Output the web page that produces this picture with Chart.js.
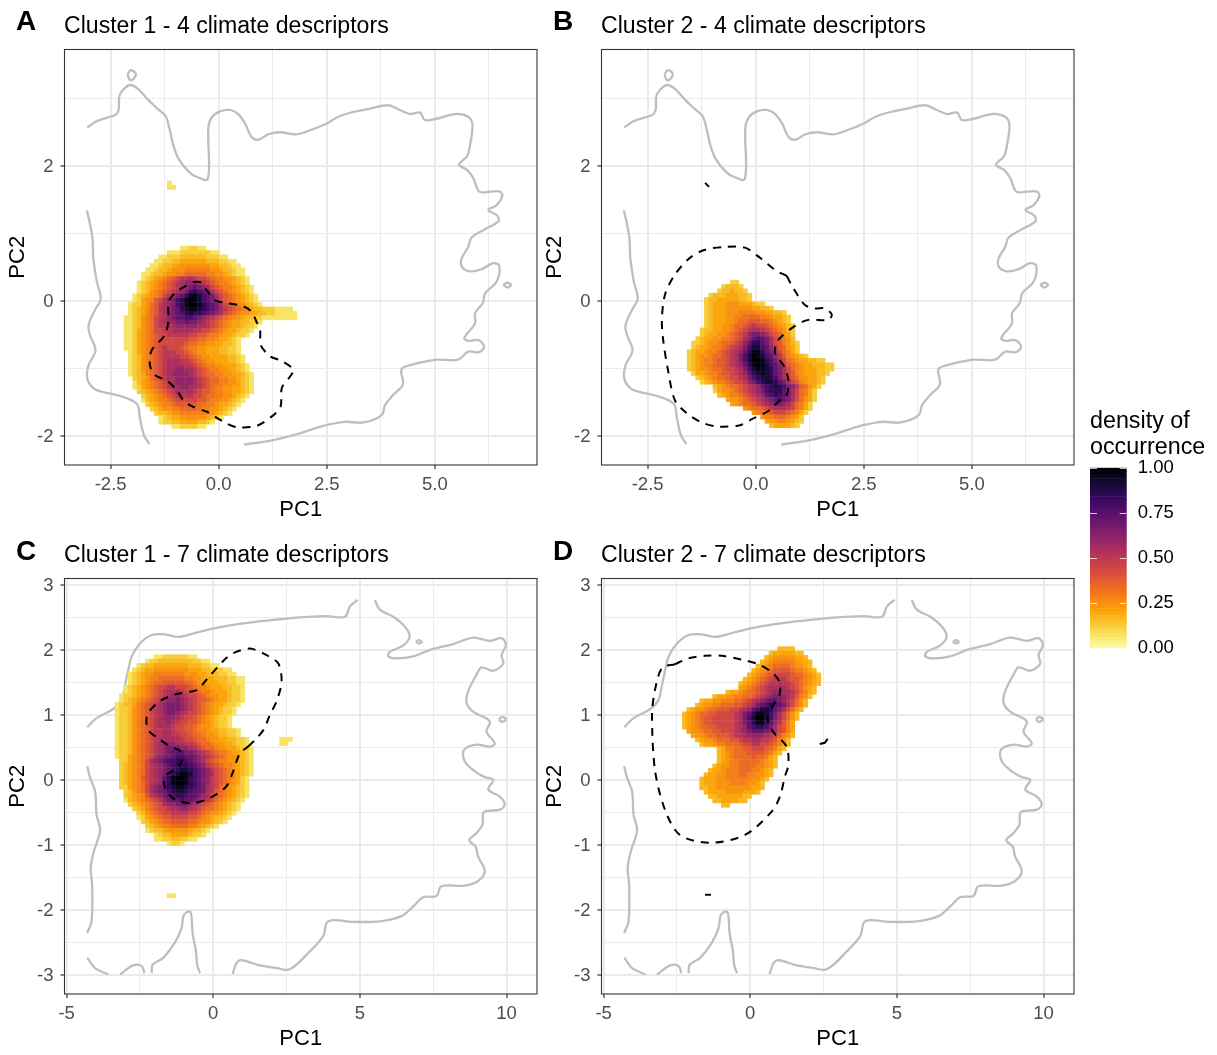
<!DOCTYPE html>
<html>
<head>
<meta charset="utf-8">
<script src="https://cdn.jsdelivr.net/npm/chart.js@4/dist/chart.umd.min.js"></script>
<style>
html,body{margin:0;padding:0;background:#fff;width:1217px;height:1055px;overflow:hidden;font-family:"Liberation Sans",sans-serif;}
canvas{position:absolute;}
.t{position:absolute;white-space:nowrap;color:#000;line-height:1;}
.title{font-size:23.1px;}
.tag{font-size:28px;font-weight:bold;}
.leg{font-size:23.3px;}
</style>
</head>
<body>
<canvas id="cA" width="545" height="525" style="left:0;top:0"></canvas>
<canvas id="cB" width="545" height="525" style="left:537px;top:0"></canvas>
<canvas id="cC" width="545" height="525" style="left:0;top:529px"></canvas>
<canvas id="cD" width="545" height="525" style="left:537px;top:529px"></canvas>
<canvas id="cL" width="132" height="270" style="left:1085px;top:400px"></canvas>
<div class="t tag" style="left:16px;top:7px">A</div>
<div class="t tag" style="left:553px;top:7px">B</div>
<div class="t tag" style="left:16px;top:537px">C</div>
<div class="t tag" style="left:553px;top:537px">D</div>
<div class="t title" style="left:64px;top:14px">Cluster 1 - 4 climate descriptors</div>
<div class="t title" style="left:601px;top:14px">Cluster 2 - 4 climate descriptors</div>
<div class="t title" style="left:64px;top:543px">Cluster 1 - 7 climate descriptors</div>
<div class="t title" style="left:601px;top:543px">Cluster 2 - 7 climate descriptors</div>
<div class="t leg" style="left:1090px;top:409px">density of</div>
<div class="t leg" style="left:1090px;top:435px">occurrence</div>
<script>
// density codes -> density value
const densityCodes = "0123456789abcdefghijk";
const densityLevels = [0,0.03,0.07,0.12,0.16,0.2,0.24,0.28,0.33,0.38,0.44,0.5,0.55,0.6,0.66,0.72,0.78,0.84,0.9,0.96,1];

const rowsA = ["2","22","","","","","","","","","","","","","",
"223322","222333333322","2233344444433322","2233445555554443322","223445566666665544322",
"22344566677777766544322","223445667788888776654322","23456789abbcbaa9877665432","23456789abcdddcba987765432","23456789abcdefedca987765432",
"2346789abcdeghgfeca98765432","2345678abcefhjjigfeca98765432","235679acdeghjkjigfeca98765432","2335689bcdeghjkkjhgfeca98765432","2345689bcdefhijjihgfecba98765443332222",
"2345789bcdefghihhgfedca98766554433 22222","2234678abcdeffggfedcba9876654433222222 22","2234678abcddeefeedcba98765544332","2234678abbccdddddccba9876554332","2235678aabbcccccbbaa9876554332",
"22356789aabbbbbaa998776554332","22356789aaaaaaa998877655432","22356789aaaaaa9887766554432","22356789abaaa98776655544332","2356789abbbaa9876655544332",
"2346789abbbbaa9876655554432","2346789abcccbba987665554432","2346789abccccbba987766555432","2346789abccddccba98776655432","2345789abcddddcba988776655432",
"345689abccddddcba98877665432","2456789abcddddcba98877665432","2356789abccddccba98776655432","3456789abccccba998776655432","3456789abbbbaa98877665432",
"24567789aaaaa99877665432","3456778999998877655432","34566778888877665432","344566777777665432","234556666665432",
"2334455554432","22333322"].map(r=>r.replace(/ /g,''));
const offsA = [10,10,0,0,0,0,0,0,0,0,0,0,0,0,0,
13,10,8,7,6,5,4,4,3,3,3,2,2,1,1,1,0,0,0,0,0,0,0,0,1,1,1,1,1,1,2,2,2,3,4,4,5,6,7,8,8,11];

const rowsB = ["33","34443","3445443","3444555443","34455555443","34555666555433","3455566666655443","3455566677776655443",
"34555667788887765543","34555667889998876543","3455667889abaa9876543","3445566789abccba987643","345566789abdeedca98653",
"3455667789acdfgfeca9764","3345667889abdfhhfeca97643","345567789abcegiigfdb98653","345567789abcdfhjjhfeca8753",
"345667889abcegikjigfdb976543","345677899abcegikkjhgeca876554433","345677899abcdfhjkjigfdb98765544433","345667889aabcegijjihfeca8765554433",
"355677899abcdfhijihfeca976555443","34567889aabceghiihgeca98665543","34567789aabdeghiihfeca9765543","4567889abcdfghihgedb98653",
"3566789abcdeghhhfeca8753","4567789abcdfghgfeca8753","566789abcdefgfeca8653","567889abcdeedca8753","67889abcccba8753","67889aaa98753","6778887653","566776543","4555543"];
const offsB = [10,8,7,5,4,4,4,4,4,4,4,3,3,2,1,1,0,0,0,0,0,1,2,3,6,6,7,9,10,13,15,17,18,19];

const rowsC = ["2233333322","233444444443322","2344555555554443322","23455666666665554433322","2345667777777666554443322",
"234567788888877665554443322","234567889999988766555443322","23456789aabbaaa9877655544332","23456789abcccbaa987765554332",
"233456789abcddcbaa98766554332","23456789abcddedcba99876554332","23445789abcdeeedcba9876554332","23346789abcdeeedcba987654332",
"23346789abcdeedcbaa987654332","23346789abcdddcbaa987654332","23346789abccdcbaa9987654332","23346789abcccbaa99876654332",
"23346789abbccbaa9987765544332","23346789abbccbbaa988766544332","23346789abcccccbaa9887665544332.......222","23346789abcdddccbba988766554332.......22",
"23346789abcdeeeddcba988766554332","23346789abcdefffeedcba9877655432","23356789acdeefggffedcba987665432","335678acdefgghggfedca9877665432",
"345678abcdefghhhgfedba987765432","345678abcdefghiihgfedba98765432","345678abcdefhijjigfedca98765432","345679abcdfhjkkjhgfedba9876532",
"345678abcdfhjkkjhgfedba9876532","335678acdefhijjihgfecba8765432","34678acdefghiihgffecb98765432","345679bcdefghhgffedca98765432",
"2456789abdeffgffedcba8765432","3456789acddeeedcba98765432","345789aabccddcba988765432","346789aabbbbaa987665432",
"23567899aaaa9987654432","34567889999887665432","34567788887765432","234456666654432","234455554332","2233443322","2332",
"","","","","","","","","","","","22"];
const offsC = [9,7,5,4,3,3,3,2,2,1,1,0,0,0,0,0,0,0,0,0,0,0,0,0,1,1,1,1,1,1,1,2,2,2,3,4,5,5,6,7,7,9,9,12,0,0,0,0,0,0,0,0,0,0,0,12];

const rowsD = ["4444","45555544","4566666554","456777776554","4567888876654","456789999877654","456789aaaa9887654","456789abbba9987654",
"456789abbcbba987654","56789abccccba98654","45567889abcddccba8754","4556677889abcdeedcb9764","45566777889abcdeffedba864",
"45667788899abcefghgfeca864","4566788999aabcdfgiihfeca864","45678899aaaabcefhjjigeca864","4567899aaaaabcegikkigeca864",
"4567899aaaaabcefhjjhfdb975","45678899aaaabcdfghhgeca975","56678899aaabcdefffedca975","566788999abbcddddcba9764",
"4566788899abbccbba9764","4556778889aabbaa98754","45778899aaa98754","456788899998754","45678888988754","45677888887654",
"456677888877654","455677788877654","4556677788776654","4555667777776654","455566677776654","445566666666554",
"4555566665554","4455555544","44555544","44"];
const offsD = [22,20,19,18,17,16,15,14,13,13,10,7,4,3,1,0,0,0,0,1,2,3,4,8,8,8,8,7,6,5,4,4,4,5,6,7,9];

// PC1/PC2 grid of the density cells
const gridA = {x0:-2.14, dx:0.1,    y0:1.748, dy:0.0644};
const gridB = {x0:-1.538,dx:0.1,    y0:0.278, dy:0.0644};
const gridC = {x0:-3.277,dx:0.1476, y0:1.894, dy:0.0669};
const gridD = {x0:-2.243,dx:0.1476, y0:2.017, dy:0.0669};

// grey region outlines (PC1, PC2), 4 descriptors
const outlineTop4 = [[-3.04,2.57],[-2.86,2.65],[-2.71,2.69],[-2.51,2.73],[-2.36,2.77],[-2.31,2.85],[-2.30,3.03],[-2.21,3.13],[-2.05,3.20],[-1.86,3.14],[-1.63,2.98],[-1.40,2.84],[-1.22,2.73],[-1.14,2.56],[-1.05,2.31],[-0.93,2.11],[-0.70,1.92],[-0.51,1.84],[-0.25,1.81],[-0.24,2.56],[-0.16,2.72],[0.03,2.81],[0.26,2.83],[0.45,2.77],[0.61,2.63],[0.76,2.43],[0.92,2.39],[1.15,2.47],[1.42,2.50],[1.80,2.47],[2.11,2.53],[2.50,2.63],[2.77,2.73],[3.11,2.80],[3.50,2.85],[3.92,2.90],[4.19,2.83],[4.43,2.77],[4.66,2.79],[4.77,2.68],[5.04,2.70],[5.47,2.77],[5.77,2.73],[5.87,2.61],[5.80,2.26],[5.74,2.14],[5.56,2.02],[5.75,1.94],[5.89,1.82],[6.03,1.62],[6.28,1.62],[6.51,1.62],[6.56,1.55],[6.43,1.42],[6.24,1.35],[6.45,1.26],[6.47,1.18],[6.12,1.05],[5.85,0.94],[5.77,0.80],[5.62,0.63],[5.62,0.51],[5.81,0.44],[6.08,0.47],[6.35,0.56],[6.49,0.52],[6.43,0.29],[6.16,0.11],[6.11,-0.03],[5.93,-0.18],[5.93,-0.33],[5.68,-0.55],[5.77,-0.59],[6.01,-0.58],[6.14,-0.68],[6.01,-0.76],[5.77,-0.75],[5.54,-0.87],[5.04,-0.87],[4.50,-0.94],[4.23,-1.01],[4.26,-1.24],[4.04,-1.39],[3.85,-1.54],[3.77,-1.69],[3.35,-1.80],[2.92,-1.79],[2.42,-1.85],[1.88,-1.96],[1.26,-2.06],[0.59,-2.13]];
const outlineLeft4 = [[-3.05,1.34],[-2.99,1.18],[-2.92,0.93],[-2.90,0.63],[-2.82,0.29],[-2.73,0.03],[-2.86,-0.13],[-3.01,-0.36],[-2.98,-0.50],[-2.85,-0.73],[-3.01,-0.95],[-3.04,-1.15],[-2.90,-1.29],[-2.67,-1.35],[-2.32,-1.40],[-1.90,-1.52],[-1.82,-1.74],[-1.73,-1.99],[-1.60,-2.12]];
const islandTop4 = [[-2.10,3.37],[-2.03,3.42],[-1.92,3.37],[-1.96,3.30],[-2.05,3.27],[-2.10,3.34],[-2.10,3.37]];
const islandRight4 = [[6.58,0.24],[6.68,0.27],[6.76,0.24],[6.68,0.20],[6.58,0.24]];

// grey region outlines (PC1, PC2), 7 descriptors
const outlineTop7 = [[-4.30,0.81],[-3.98,0.95],[-3.41,1.09],[-3.13,1.23],[-3.01,1.46],[-2.90,1.69],[-2.78,1.90],[-2.50,2.10],[-2.10,2.23],[-1.65,2.24],[-1.19,2.20],[-0.63,2.26],[0.11,2.34],[0.91,2.40],[1.82,2.45],[2.95,2.50],[3.86,2.52],[4.49,2.51],[4.66,2.67],[4.92,2.77]];
const outlineRight7 = [[5.51,2.77],[5.68,2.62],[6.14,2.51],[6.53,2.36],[6.70,2.21],[6.48,2.07],[6.02,1.97],[5.97,1.90],[6.25,1.87],[6.82,1.90],[7.39,2.00],[8.18,2.09],[8.86,2.19],[9.43,2.14],[9.83,2.18],[9.98,2.08],[9.83,1.92],[9.89,1.79],[9.55,1.68],[9.15,1.73],[8.98,1.62],[8.69,1.36],[8.64,1.18],[8.86,1.05],[9.43,0.90],[9.32,0.74],[9.60,0.56],[9.43,0.51],[8.98,0.54],[8.55,0.46],[8.58,0.28],[8.92,0.13],[9.26,0.04],[9.55,0],[9.38,-0.15],[9.77,-0.26],[9.94,-0.38],[9.77,-0.46],[9.23,-0.50],[9.18,-0.69],[8.98,-0.82],[8.73,-0.93],[8.95,-1.03],[9.03,-1.18],[9.26,-1.41],[9.03,-1.56],[8.58,-1.63],[7.78,-1.64],[7.61,-1.79],[7.16,-1.81],[6.82,-1.95],[6.42,-2.10],[5.68,-2.18],[4.77,-2.19],[3.92,-2.18],[3.75,-2.41],[3.30,-2.64],[2.61,-2.92],[2.16,-2.90],[1.59,-2.86],[0.97,-2.78],[0.80,-2.82],[0.66,-2.99]];
const outlineLeft7 = [[-4.30,0.21],[-4.20,0.03],[-4.03,-0.18],[-3.98,-0.54],[-3.86,-0.78],[-4.07,-1.10],[-4.18,-1.36],[-4.13,-1.62],[-4.15,-2.18],[-4.30,-2.36]];
const outlineFoot7a = [[-4.30,-2.74],[-4.03,-2.90],[-3.58,-3.00]];
const outlineFoot7b = [[-3.18,-3.00],[-2.73,-2.86],[-2.44,-2.87],[-2.35,-2.98]];
const outlineFoot7c = [[-2.10,-2.98],[-2.07,-2.85],[-1.70,-2.74],[-1.31,-2.51],[-1.08,-2.28],[-1.02,-2.10],[-0.91,-2.04],[-0.77,-2.04],[-0.70,-2.38],[-0.59,-2.64],[-0.55,-2.85],[-0.45,-2.98]];
const islandTop7 = [[6.91,2.13],[7.02,2.15],[7.11,2.12],[7.01,2.10],[6.91,2.13]];
const islandRight7 = [[9.74,0.93],[9.85,0.97],[9.98,0.93],[9.85,0.89],[9.74,0.93]];

// dashed contours (PC1, PC2)
const dashedA = [[[-0.59,0.28],[-0.43,0.28],[-0.28,0.16],[-0.08,0.01],[0.19,-0.03],[0.57,-0.08],[0.76,-0.16],[0.89,-0.33],[0.96,-0.45],[0.97,-0.65],[1.19,-0.82],[1.46,-0.89],[1.73,-1.02],[1.65,-1.12],[1.46,-1.29],[1.43,-1.57],[1.23,-1.71],[0.88,-1.85],[0.42,-1.87],[0.11,-1.79],[-0.28,-1.64],[-0.59,-1.57],[-0.82,-1.47],[-0.97,-1.32],[-1.20,-1.18],[-1.47,-1.10],[-1.59,-0.95],[-1.55,-0.73],[-1.24,-0.50],[-1.16,-0.26],[-1.16,-0.01],[-0.97,0.14],[-0.59,0.28]]];
const dashedB = [[[0.72,0.37],[0.87,0.19],[1.14,-0.06],[1.37,-0.11],[1.60,-0.11],[1.76,-0.20],[1.68,-0.28],[1.22,-0.28],[0.91,-0.37],[0.56,-0.55],[0.45,-0.68],[0.46,-0.80],[0.64,-0.95],[0.75,-1.15],[0.72,-1.39],[0.56,-1.47],[0.29,-1.63],[-0.09,-1.75],[-0.36,-1.84],[-0.87,-1.86],[-1.25,-1.80],[-1.60,-1.66],[-1.87,-1.47],[-2.03,-1.02],[-2.14,-0.58],[-2.17,-0.28],[-2.10,0.09],[-1.87,0.39],[-1.52,0.64],[-1.17,0.76],[-0.71,0.80],[-0.25,0.79],[0.10,0.64],[0.45,0.46],[0.72,0.37]]];
const solidB = [[[-1.17,1.75],[-1.08,1.69]]];
const dashedC = [[[1.19,0.51],[1.48,0.64],[1.73,0.78],[1.93,1.00],[2.16,1.21],[2.33,1.51],[2.22,1.79],[1.82,1.92],[1.25,2.02],[0.68,1.95],[0.34,1.83],[-0.23,1.54],[-0.57,1.38],[-1.25,1.32],[-1.82,1.21],[-2.25,1.00],[-2.22,0.77],[-1.82,0.62],[-1.42,0.50],[-1.14,0.45],[-1.08,0.28],[-1.36,0.15],[-1.68,0.03],[-1.59,-0.18],[-1.25,-0.32],[-0.68,-0.36],[-0.11,-0.28],[0.45,-0.10],[0.68,0.13],[0.91,0.41],[1.19,0.51]]];
const dashedD = [[[-2.57,1.78],[-2.11,1.87],[-1.54,1.91],[-0.98,1.91],[-0.29,1.85],[0.27,1.78],[0.78,1.64],[1.01,1.49],[0.98,1.28],[0.78,1.15],[0.59,0.95],[0.78,0.74],[1.24,0.51],[1.30,0.23],[1.18,0.05],[1.01,-0.26],[0.73,-0.49],[-0.18,-0.85],[-1.37,-0.97],[-2.40,-0.85],[-2.91,-0.46],[-3.25,0.15],[-3.35,1.00],[-3.25,1.38],[-3.01,1.72],[-2.57,1.78]]];
const solidD = [[[2.37,0.55],[2.54,0.57],[2.64,0.63]],[[-1.54,-1.77],[-1.34,-1.77]]];

// axes
const ranges4 = {xMin:-3.567,xMax:7.363,yMin:-2.43,yMax:3.726};
const ranges7 = {xMin:-5.073,xMax:11.04,yMin:-3.3,yMax:3.1};
const xMajor4 = [-2.5,0,2.5,5];      const xLabels4 = ["-2.5","0.0","2.5","5.0"];
const xMinor4 = [-1.25,1.25,3.75,6.25];
const yMajor4 = [-2,0,2];            const yLabels4 = ["-2","0","2"];
const yMinor4 = [-1,1,3];
const xMajor7 = [-5,0,5,10];         const xLabels7 = ["-5","0","5","10"];
const xMinor7 = [-2.5,2.5,7.5];
const yMajor7 = [-3,-2,-1,0,1,2,3];  const yLabels7 = ["-3","-2","-1","0","1","2","3"];
const yMinor7 = [-2.5,-1.5,-0.5,0.5,1.5,2.5];

// colour bar
const barEdges = [0,0.02,0.04,0.06,0.08,0.1,0.12,0.14,0.16,0.18,0.2,0.22,0.24,0.26,0.28,0.3,0.32,0.34,0.36,0.38,0.4,0.42,0.44,0.46,0.48,0.5,0.52,0.54,0.56,0.58,0.6,0.62,0.64,0.66,0.68,0.7,0.72,0.74,0.76,0.78,0.8,0.82,0.84,0.86,0.88,0.9,0.92,0.94,0.96,0.98,1];
const barTicks = [0,0.25,0.5,0.75,1];
const barLabels = ["0.00","0.25","0.50","0.75","1.00"];

// inverted inferno, density 0 -> 1
const palette = ["#fcffa4","#f6d746","#fca50a","#f37819","#dd513a","#bc3754","#932667","#6a176e","#420a68","#160b39","#000004"];

function hex(c){return [1,3,5].map(i=>parseInt(c.substr(i,2),16));}
function colorOf(v){
  const t=Math.max(0,Math.min(1,v))*(palette.length-1);
  const i=Math.min(palette.length-2,Math.floor(t)),f=t-i;
  const a=hex(palette[i]),b=hex(palette[i+1]);
  return `rgb(${a.map((p,k)=>Math.round(p+(b[k]-p)*f)).join(",")})`;
}
function cells(rows,offs,g){
  const out=[];
  rows.forEach((row,j)=>{[...row].forEach((ch,i)=>{
    if(ch==='.')return;
    out.push({x:g.x0+(offs[j]+i)*g.dx,y:g.y0-j*g.dy,v:densityLevels[densityCodes.indexOf(ch)]});
  });});
  return out;
}
const pts=l=>l.map(p=>({x:p[0],y:p[1]}));
const framePlugin={id:'frame',
  beforeDatasetDraw(c,args){ if(c.data.datasets[args.index].isHeat){c.ctx.save();c.ctx.filter='blur(0.7px)';} },
  afterDatasetDraw(c,args){ if(c.data.datasets[args.index].isHeat){c.ctx.restore();} },
  afterDraw(c){
  const a=c.chartArea,x=c.ctx;x.save();x.strokeStyle='#333333';x.lineWidth=1.1;
  x.strokeRect(a.left,a.top,a.right-a.left,a.bottom-a.top);x.restore();}};

function axis(r,min,max,major,labels,minor,horizontal,title){
  const isMajor=v=>major.includes(v);
  return {type:'linear',min,max,
    afterBuildTicks:s=>{s.ticks=[...major,...minor].sort((a,b)=>a-b).map(v=>({value:v}));},
    afterFit:s=>{if(horizontal)s.height=60;else s.width=64.5;},
    border:{display:false},
    grid:{color:'#ebebeb',lineWidth:c=>isMajor(c.tick.value)?2:1,drawTicks:true,tickLength:4,
      tickColor:c=>isMajor(c.tick.value)?'#333333':'rgba(0,0,0,0)',tickWidth:1.2},
    ticks:{autoSkip:false,maxRotation:0,minRotation:0,padding:horizontal?5:7,color:'#4d4d4d',labelOffset:horizontal?0:1,
      font:{size:18.5,family:'"Liberation Sans"'},
      callback:v=>{const i=major.indexOf(v);return i>=0?labels[i]:'';}},
    title:{display:true,text:title,color:'#000',font:{size:22,family:'"Liberation Sans"'},
      padding:horizontal?{top:0,bottom:2}:{top:5,bottom:0}}
  };
}
function panel(id,rows,offs,grid,greys,dashed,solid,r,xMa,xLa,xMi,yMa,yLa,yMi){
  const heat=cells(rows,offs,grid);
  const ds=[];
  greys.forEach(g=>ds.push({data:pts(g),showLine:true,pointRadius:0,borderColor:'#bebebe',borderWidth:2.3,tension:0.35,order:3,fill:false}));
  ds.push({data:heat,showLine:false,isHeat:true,pointStyle:'rect',pointRadius:3.4,pointBorderWidth:0,
    pointBackgroundColor:heat.map(p=>colorOf(p.v)),order:2});
  dashed.forEach(g=>ds.push({data:pts(g),showLine:true,pointRadius:0,borderColor:'#000',borderWidth:2,borderDash:[8,7],tension:0.3,order:1,fill:false}));
  solid.forEach(g=>ds.push({data:pts(g),showLine:true,pointRadius:0,borderColor:'#000',borderWidth:2,order:1,fill:false}));
  new Chart(document.getElementById(id),{type:'scatter',data:{datasets:ds},plugins:[framePlugin],
    options:{responsive:false,animation:false,events:[],
      layout:{padding:{left:0,right:8,top:49.5,bottom:0}},
      plugins:{legend:{display:false},tooltip:{enabled:false},title:{display:false}},
      scales:{x:axis(r,r.xMin,r.xMax,xMa,xLa,xMi,true,'PC1'),y:axis(r,r.yMin,r.yMax,yMa,yLa,yMi,false,'PC2')}}});
}
const greys4=[outlineTop4,outlineLeft4,islandTop4,islandRight4];
const greys7=[outlineTop7,outlineRight7,outlineLeft7,outlineFoot7a,outlineFoot7b,outlineFoot7c,islandTop7,islandRight7];
panel('cA',rowsA,offsA,gridA,greys4,dashedA,[],ranges4,xMajor4,xLabels4,xMinor4,yMajor4,yLabels4,yMinor4);
panel('cB',rowsB,offsB,gridB,greys4,dashedB,solidB,ranges4,xMajor4,xLabels4,xMinor4,yMajor4,yLabels4,yMinor4);
panel('cC',rowsC,offsC,gridC,greys7,dashedC,[],ranges7,xMajor7,xLabels7,xMinor7,yMajor7,yLabels7,yMinor7);
panel('cD',rowsD,offsD,gridD,greys7,dashedD,solidD,ranges7,xMajor7,xLabels7,xMinor7,yMajor7,yLabels7,yMinor7);

const barTickPlugin={id:'barTicks',afterDatasetsDraw(c){
  const a=c.chartArea,x=c.ctx,y=c.scales.y;x.save();x.strokeStyle='rgba(255,255,255,0.75)';x.lineWidth=1;
  barTicks.forEach(v=>{const p=Math.round(y.getPixelForValue(v))+0.5;
    x.beginPath();x.moveTo(a.left,p);x.lineTo(a.left+7,p);x.moveTo(a.right-7,p);x.lineTo(a.right,p);x.stroke();});
  x.restore();}};
new Chart(document.getElementById('cL'),{type:'bar',
  data:{labels:['density'],datasets:barEdges.slice(0,-1).map((e,i)=>({data:[[e,barEdges[i+1]]],
    backgroundColor:colorOf((e+barEdges[i+1])/2),borderWidth:0,barPercentage:1,categoryPercentage:1,grouped:false}))},
  plugins:[barTickPlugin],
  options:{responsive:false,animation:false,events:[],
    layout:{padding:{left:5,right:0,top:67.7,bottom:0}},
    plugins:{legend:{display:false},tooltip:{enabled:false}},
    scales:{x:{display:false,offset:true},
      y:{type:'linear',position:'right',min:0,max:1,
        afterBuildTicks:s=>{s.ticks=barTicks.map(v=>({value:v}));},
        afterFit:s=>{s.width=90.3;},
        border:{display:false},grid:{display:false,drawTicks:false},
        ticks:{padding:11,color:'#000',font:{size:18.5,family:'"Liberation Sans"'},
          callback:v=>{const i=barTicks.indexOf(v);return i>=0?barLabels[i]:'';}}}}}});
</script>
</body>
</html>
